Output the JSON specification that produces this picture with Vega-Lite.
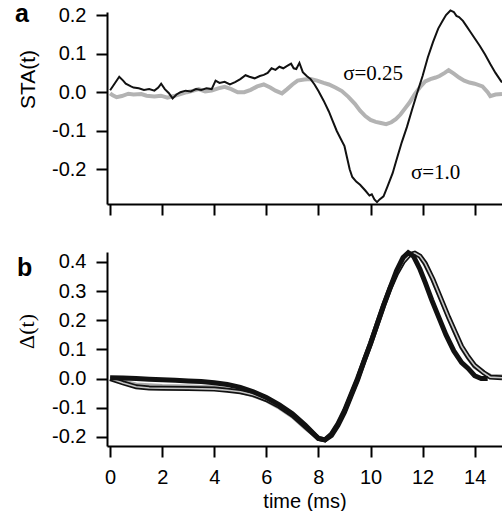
{
  "$schema": "https://vega.github.io/schema/vega-lite/v6.json",
  "background": "white",
  "padding": {"left": 15, "top": 2, "right": 0, "bottom": 0},
  "config": {
    "view": {"stroke": null},
    "axis": {"grid": false, "domainColor": "black", "domainWidth": 2, "tickColor": "black", "tickWidth": 2, "tickSize": 11, "labelFont": "Liberation Sans", "labelFontSize": 20, "labelColor": "black", "titleColor": "black", "titleFontWeight": "normal", "labelPadding": 10, "labelOverlap": false}
  },
  "bounds": "flush",
  "spacing": 48,
  "datasets": {
    "ablack": [
      {"t":0.0,"v":0.005},{"t":0.15,"v":0.02},{"t":0.35,"v":0.04},{"t":0.5,"v":0.03},{"t":0.6,"v":0.022},{"t":0.8,"v":0.015},{"t":0.9,"v":0.012},{"t":1.1,"v":0.01},{"t":1.3,"v":0.006},{"t":1.5,"v":0.008},{"t":1.7,"v":0.004},{"t":1.85,"v":0.012},{"t":1.96,"v":0.022},{"t":2.1,"v":0.008},{"t":2.25,"v":-0.002},{"t":2.4,"v":-0.016},{"t":2.55,"v":-0.006},{"t":2.7,"v":0.0},{"t":2.9,"v":0.004},{"t":3.1,"v":0.002},{"t":3.3,"v":0.008},{"t":3.5,"v":0.006},{"t":3.7,"v":0.01},{"t":3.9,"v":0.008},{"t":4.05,"v":0.03},{"t":4.2,"v":0.024},{"t":4.4,"v":0.027},{"t":4.6,"v":0.02},{"t":4.8,"v":0.026},{"t":5.0,"v":0.034},{"t":5.2,"v":0.044},{"t":5.35,"v":0.04},{"t":5.55,"v":0.036},{"t":5.75,"v":0.042},{"t":5.9,"v":0.045},{"t":6.05,"v":0.05},{"t":6.2,"v":0.062},{"t":6.35,"v":0.058},{"t":6.5,"v":0.066},{"t":6.65,"v":0.062},{"t":6.8,"v":0.068},{"t":6.95,"v":0.074},{"t":7.05,"v":0.062},{"t":7.15,"v":0.06},{"t":7.27,"v":0.076},{"t":7.4,"v":0.052},{"t":7.55,"v":0.042},{"t":7.7,"v":0.034},{"t":7.85,"v":0.02},{"t":8.0,"v":0.003},{"t":8.2,"v":-0.022},{"t":8.4,"v":-0.05},{"t":8.55,"v":-0.075},{"t":8.7,"v":-0.1},{"t":8.85,"v":-0.12},{"t":9.0,"v":-0.14},{"t":9.1,"v":-0.17},{"t":9.2,"v":-0.2},{"t":9.3,"v":-0.22},{"t":9.45,"v":-0.232},{"t":9.6,"v":-0.24},{"t":9.8,"v":-0.255},{"t":9.96,"v":-0.268},{"t":10.05,"v":-0.265},{"t":10.15,"v":-0.278},{"t":10.25,"v":-0.285},{"t":10.35,"v":-0.278},{"t":10.5,"v":-0.27},{"t":10.65,"v":-0.245},{"t":10.85,"v":-0.21},{"t":11.0,"v":-0.175},{"t":11.2,"v":-0.13},{"t":11.4,"v":-0.09},{"t":11.6,"v":-0.044},{"t":11.8,"v":0.0},{"t":12.0,"v":0.042},{"t":12.2,"v":0.09},{"t":12.4,"v":0.13},{"t":12.6,"v":0.165},{"t":12.77,"v":0.185},{"t":12.9,"v":0.2},{"t":13.07,"v":0.212},{"t":13.2,"v":0.208},{"t":13.3,"v":0.198},{"t":13.4,"v":0.195},{"t":13.55,"v":0.185},{"t":13.7,"v":0.17},{"t":13.8,"v":0.16},{"t":14.0,"v":0.14},{"t":14.2,"v":0.12},{"t":14.4,"v":0.098},{"t":14.6,"v":0.073},{"t":14.8,"v":0.05},{"t":15.0,"v":0.03},{"t":15.05,"v":0.025}
    ],
    "agray": [
      {"t":0.0,"v":-0.003},{"t":0.1,"v":-0.008},{"t":0.25,"v":-0.013},{"t":0.45,"v":-0.01},{"t":0.7,"v":-0.004},{"t":0.9,"v":-0.006},{"t":1.2,"v":-0.005},{"t":1.4,"v":-0.009},{"t":1.7,"v":-0.011},{"t":1.95,"v":-0.009},{"t":2.2,"v":-0.014},{"t":2.45,"v":-0.01},{"t":2.7,"v":-0.005},{"t":2.95,"v":0.0},{"t":3.2,"v":0.004},{"t":3.4,"v":0.008},{"t":3.65,"v":0.002},{"t":3.9,"v":0.004},{"t":4.15,"v":0.01},{"t":4.4,"v":0.014},{"t":4.65,"v":0.008},{"t":4.9,"v":0.0},{"t":5.15,"v":0.0},{"t":5.4,"v":0.006},{"t":5.65,"v":0.015},{"t":5.9,"v":0.02},{"t":6.15,"v":0.012},{"t":6.35,"v":0.004},{"t":6.6,"v":-0.003},{"t":6.8,"v":0.008},{"t":7.0,"v":0.02},{"t":7.2,"v":0.03},{"t":7.45,"v":0.033},{"t":7.7,"v":0.034},{"t":7.95,"v":0.03},{"t":8.2,"v":0.024},{"t":8.4,"v":0.02},{"t":8.65,"v":0.012},{"t":8.9,"v":0.003},{"t":9.15,"v":-0.012},{"t":9.4,"v":-0.03},{"t":9.6,"v":-0.048},{"t":9.8,"v":-0.062},{"t":10.0,"v":-0.072},{"t":10.2,"v":-0.077},{"t":10.4,"v":-0.08},{"t":10.6,"v":-0.083},{"t":10.8,"v":-0.078},{"t":10.97,"v":-0.07},{"t":11.15,"v":-0.058},{"t":11.35,"v":-0.04},{"t":11.5,"v":-0.027},{"t":11.7,"v":-0.005},{"t":11.9,"v":0.013},{"t":12.1,"v":0.028},{"t":12.3,"v":0.034},{"t":12.5,"v":0.038},{"t":12.65,"v":0.042},{"t":12.85,"v":0.05},{"t":13.0,"v":0.057},{"t":13.2,"v":0.048},{"t":13.4,"v":0.038},{"t":13.6,"v":0.03},{"t":13.8,"v":0.025},{"t":14.0,"v":0.022},{"t":14.3,"v":0.015},{"t":14.5,"v":0.0},{"t":14.6,"v":-0.01},{"t":14.8,"v":-0.006},{"t":15.05,"v":-0.005}
    ],
    "notes": [
      {"t":10.1,"v":0.047,"label":"σ=0.25"},
      {"t":12.5,"v":-0.21,"label":"σ=1.0"}
    ],
    "bA": [
      {"t":0,"v":0.003},{"t":0.5,"v":0.002},{"t":1,"v":0.0},{"t":1.5,"v":-0.002},{"t":2,"v":-0.004},{"t":2.5,"v":-0.006},{"t":3,"v":-0.008},{"t":3.5,"v":-0.01},{"t":4,"v":-0.014},{"t":4.5,"v":-0.02},{"t":5,"v":-0.03},{"t":5.5,"v":-0.045},{"t":6,"v":-0.065},{"t":6.5,"v":-0.09},{"t":7,"v":-0.12},{"t":7.5,"v":-0.16},{"t":8,"v":-0.205},{"t":8.25,"v":-0.21},{"t":8.5,"v":-0.195},{"t":8.75,"v":-0.16},{"t":9,"v":-0.115},{"t":9.25,"v":-0.06},{"t":9.5,"v":-0.005},{"t":9.75,"v":0.06},{"t":10,"v":0.12},{"t":10.25,"v":0.185},{"t":10.5,"v":0.25},{"t":10.75,"v":0.31},{"t":11,"v":0.37},{"t":11.25,"v":0.415},{"t":11.45,"v":0.432},{"t":11.65,"v":0.42},{"t":11.9,"v":0.375},{"t":12.1,"v":0.33},{"t":12.35,"v":0.27},{"t":12.6,"v":0.215},{"t":12.9,"v":0.15},{"t":13.2,"v":0.095},{"t":13.5,"v":0.055},{"t":13.75,"v":0.035},{"t":14.0,"v":0.01},{"t":14.25,"v":0.0},{"t":14.5,"v":0.0}
    ],
    "bB": [
      {"t":0,"v":0.0},{"t":0.5,"v":-0.015},{"t":1,"v":-0.028},{"t":1.5,"v":-0.032},{"t":2,"v":-0.033},{"t":3,"v":-0.034},{"t":4,"v":-0.036},{"t":4.5,"v":-0.04},{"t":5,"v":-0.045},{"t":5.5,"v":-0.055},{"t":6,"v":-0.072},{"t":6.5,"v":-0.095},{"t":7,"v":-0.125},{"t":7.5,"v":-0.165},{"t":8,"v":-0.205},{"t":8.25,"v":-0.21},{"t":8.5,"v":-0.19},{"t":8.75,"v":-0.155},{"t":9,"v":-0.11},{"t":9.25,"v":-0.055},{"t":9.5,"v":0.0},{"t":9.75,"v":0.06},{"t":10,"v":0.12},{"t":10.25,"v":0.185},{"t":10.5,"v":0.25},{"t":10.75,"v":0.31},{"t":11,"v":0.36},{"t":11.25,"v":0.4},{"t":11.5,"v":0.425},{"t":11.7,"v":0.43},{"t":11.9,"v":0.42},{"t":12.1,"v":0.395},{"t":12.4,"v":0.34},{"t":12.7,"v":0.275},{"t":13,"v":0.21},{"t":13.25,"v":0.16},{"t":13.5,"v":0.11},{"t":13.75,"v":0.075},{"t":14.0,"v":0.045},{"t":14.35,"v":0.02},{"t":14.6,"v":0.005},{"t":15.05,"v":0.003}
    ],
    "bC": [
      {"t":0,"v":0.0},{"t":0.5,"v":-0.01},{"t":1,"v":-0.02},{"t":2,"v":-0.025},{"t":3,"v":-0.027},{"t":4,"v":-0.03},{"t":4.5,"v":-0.037},{"t":5,"v":-0.045},{"t":5.5,"v":-0.058},{"t":6,"v":-0.075},{"t":6.5,"v":-0.1},{"t":7,"v":-0.13},{"t":7.5,"v":-0.17},{"t":8,"v":-0.205},{"t":8.25,"v":-0.212},{"t":8.5,"v":-0.19},{"t":8.75,"v":-0.155},{"t":9,"v":-0.11},{"t":9.25,"v":-0.055},{"t":9.5,"v":0.0},{"t":9.75,"v":0.06},{"t":10,"v":0.12},{"t":10.25,"v":0.185},{"t":10.5,"v":0.25},{"t":10.75,"v":0.31},{"t":11,"v":0.36},{"t":11.25,"v":0.4},{"t":11.5,"v":0.425},{"t":11.7,"v":0.43},{"t":11.9,"v":0.418},{"t":12.1,"v":0.39},{"t":12.4,"v":0.335},{"t":12.7,"v":0.27},{"t":13,"v":0.205},{"t":13.25,"v":0.155},{"t":13.5,"v":0.105},{"t":13.75,"v":0.07},{"t":14.0,"v":0.04},{"t":14.35,"v":0.02},{"t":14.6,"v":0.01},{"t":15.05,"v":0.008}
    ]
  },
  "vconcat": [
    {
      "width": 395,
      "height": 192,
      "title": {"text": "a", "orient": "none", "anchor": "start", "align": "left", "font": "Liberation Sans", "fontSize": 25, "fontWeight": "bold", "color": "black", "baseline": "alphabetic", "offset": 0, "dy": 10, "dx": -92},
      "encoding": {
        "x": {"field": "t", "type": "quantitative", "scale": {"domain": [-0.12, 15.05], "nice": false, "zero": false}, "axis": {"title": null, "labels": false, "values": [0, 2, 4, 6, 8, 10, 12, 14]}},
        "y": {"field": "v", "type": "quantitative", "scale": {"domain": [-0.29, 0.208], "nice": false, "zero": false}, "axis": {"title": "STA(t)", "titleFont": "Liberation Sans", "titleFontSize": 21, "titleY": 67, "titlePadding": 13, "values": [-0.2, -0.1, 0, 0.1, 0.2], "labelExpr": "replace(format(datum.value, '.1f'), '\u2212', '-')"}}
      },
      "layer": [
        {
          "data": {"name": "agray"},
          "mark": {"type": "line", "color": "#b3b3b3", "strokeWidth": 4}
        },
        {
          "data": {"name": "ablack"},
          "mark": {"type": "line", "color": "#111111", "strokeWidth": 2}
        },
        {
          "data": {"name": "notes"},
          "mark": {"type": "text", "font": "Liberation Serif", "fontSize": 21, "color": "black", "align": "center", "baseline": "middle"},
          "encoding": {
            "text": {"field": "label"}
          }
        }
      ]
    },
    {
      "width": 395,
      "height": 194,
      "title": {"text": "b", "orient": "none", "anchor": "start", "align": "left", "font": "Liberation Sans", "fontSize": 25, "fontWeight": "bold", "color": "black", "baseline": "alphabetic", "offset": 0, "dy": 24, "dx": -90},
      "encoding": {
        "x": {"field": "t", "type": "quantitative", "scale": {"domain": [-0.12, 15.05], "nice": false, "zero": false}, "axis": {"title": "time (ms)", "titleFont": "Liberation Sans", "titleFontSize": 20, "titlePadding": 4, "labelPadding": 10, "values": [0, 2, 4, 6, 8, 10, 12, 14]}},
        "y": {"field": "v", "type": "quantitative", "scale": {"domain": [-0.231, 0.434], "nice": false, "zero": false}, "axis": {"title": "Δ(t)", "titleFont": "Liberation Serif", "titleFontSize": 22, "titleY": 79, "titlePadding": 13, "values": [-0.2, -0.1, 0, 0.1, 0.2, 0.3, 0.4], "labelExpr": "replace(format(datum.value, '.1f'), '\u2212', '-')"}}
      },
      "layer": [
        {
          "data": {"name": "bC"},
          "mark": {"type": "line", "color": "#aaaaaa", "strokeWidth": 4}
        },
        {
          "data": {"name": "bB"},
          "mark": {"type": "line", "color": "#111111", "strokeWidth": 5}
        },
        {
          "data": {"name": "bB"},
          "mark": {"type": "line", "color": "#c4c4c4", "strokeWidth": 1.6}
        },
        {
          "data": {"name": "bA"},
          "mark": {"type": "line", "color": "#111111", "strokeWidth": 5}
        }
      ]
    }
  ]
}
